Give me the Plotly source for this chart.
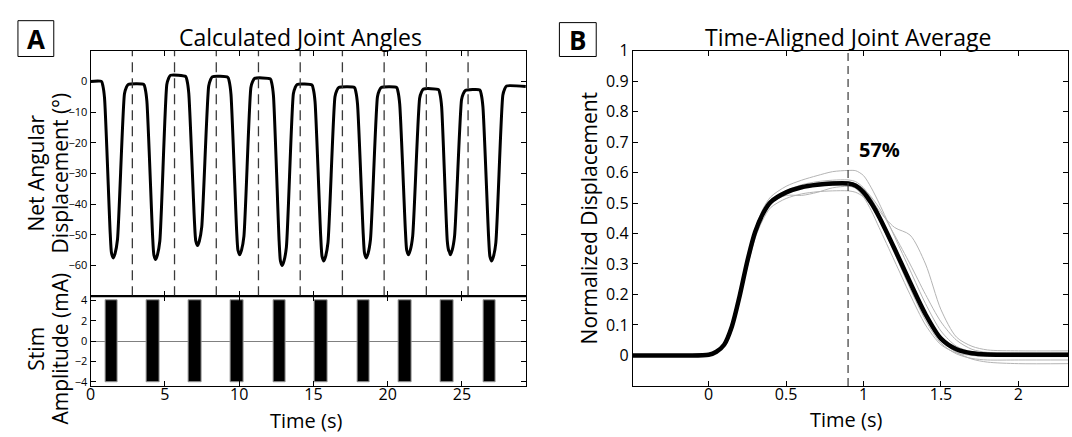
import plotly.graph_objects as go

# ---------------- Panel A data ----------------
angle_time = [0.00, 0.73, 0.83, 0.94, 1.32, 1.41, 1.53, 1.65, 1.81, 2.28, 2.40, 2.53,
              3.58, 3.68, 3.79, 4.17, 4.26, 4.38, 4.50, 4.66, 5.13, 5.25, 5.38,
              6.40, 6.50, 6.61, 6.99, 7.08, 7.20, 7.32, 7.48, 7.95, 8.07, 8.20,
              9.24, 9.34, 9.45, 9.83, 9.92, 10.04, 10.16, 10.32, 10.79, 10.91, 11.04,
              12.10, 12.20, 12.31, 12.69, 12.78, 12.90, 13.02, 13.18, 13.65, 13.77, 13.90,
              14.90, 15.00, 15.11, 15.49, 15.58, 15.70, 15.82, 15.98, 16.45, 16.57, 16.70,
              17.76, 17.86, 17.97, 18.35, 18.44, 18.56, 18.68, 18.84, 19.31, 19.43, 19.56,
              20.60, 20.70, 20.81, 21.19, 21.28, 21.40, 21.52, 21.68, 22.15, 22.27, 22.40,
              23.42, 23.52, 23.63, 24.01, 24.10, 24.15, 24.22, 24.34, 24.50, 24.97, 25.09, 25.22,
              26.20, 26.30, 26.41, 26.79, 26.88, 27.00, 27.12, 27.28, 27.75, 27.87, 28.00, 29.30]
angle_deg = [0.0, 0.0, -1.5, -5.5, -49.5, -56.0, -57.5, -56.0, -51.5, -4.0, -2.0, -1.0,
             -1.0, -2.5, -6.5, -50.0, -56.5, -58.0, -56.5, -52.0, -1.0, 1.0, 2.0,
             1.6, 0.1, -3.9, -45.5, -52.0, -53.5, -52.0, -47.5, -1.5, 0.5, 1.5,
             1.3, -0.2, -4.2, -48.5, -55.0, -56.5, -55.0, -50.5, -2.0, 0.0, 1.0,
             0.8, -0.7, -4.7, -52.0, -58.5, -60.0, -58.5, -54.0, -4.0, -2.0, -1.0,
             -1.2, -2.7, -6.7, -50.5, -57.0, -58.5, -57.0, -52.5, -5.0, -3.0, -2.0,
             -2.0, -3.5, -7.5, -49.5, -56.0, -57.5, -56.0, -51.5, -5.0, -3.0, -2.0,
             -2.0, -3.5, -7.5, -48.5, -55.0, -56.5, -55.0, -50.5, -5.5, -3.5, -2.5,
             -2.7, -4.2, -8.2, -52.0, -55.0, -55.5, -56.5, -55.0, -50.5, -6.0, -4.0, -3.0,
             -2.8, -4.3, -8.3, -50.5, -57.0, -58.5, -57.0, -52.5, -4.5, -2.5, -1.5, -1.7]

stim_off_markers = [2.81, 5.65, 8.46, 11.30, 14.11, 16.95, 19.76, 22.60, 25.41]
stim_start = [0.99, 3.80, 6.62, 9.45, 12.29, 15.10, 17.94, 20.75, 23.59, 26.43]
stim_end = [1.82, 4.65, 7.48, 10.30, 13.13, 15.96, 18.79, 21.62, 24.44, 27.28]
stim_amp = 4.0

angle_ticks = [0, -10, -20, -30, -40, -50, -60]
stim_ticks = [-4, -2, 0, 2, 4]
time_ticks_a = [0, 5, 10, 15, 20, 25]

# ---------------- Panel B data ----------------
t_b = [-0.49, -0.2, 0.0, 0.05, 0.1, 0.15, 0.2, 0.25, 0.3, 0.35, 0.4, 0.5, 0.6, 0.7, 0.8,
       0.9, 0.95, 1.0, 1.05, 1.1, 1.2, 1.3, 1.4, 1.5, 1.6, 1.7, 1.8, 2.0, 2.32]
mean_disp = [0, 0, 0.002, 0.012, 0.035, 0.095, 0.195, 0.31, 0.405, 0.465, 0.503, 0.535, 0.552,
             0.56, 0.564, 0.564, 0.557, 0.535, 0.5, 0.455, 0.35, 0.24, 0.135, 0.055, 0.02,
             0.007, 0.003, 0.002, 0.002]
trial_1 = [0, 0, 0.003, 0.013, 0.04, 0.1, 0.2, 0.315, 0.415, 0.48, 0.52, 0.555, 0.575, 0.59,
           0.603, 0.607, 0.606, 0.59, 0.55, 0.5, 0.39, 0.28, 0.17, 0.08, 0.03, 0.012, 0.008,
           0.006, 0.006]
trial_2 = [0, 0, 0.002, 0.01, 0.03, 0.085, 0.185, 0.3, 0.4, 0.465, 0.505, 0.54, 0.56, 0.57,
           0.575, 0.576, 0.57, 0.55, 0.515, 0.475, 0.42, 0.395, 0.3, 0.15, 0.06, 0.03, 0.018,
           0.015, 0.015]
trial_3 = [0, 0, 0.002, 0.012, 0.035, 0.09, 0.185, 0.29, 0.385, 0.445, 0.485, 0.515, 0.53,
           0.537, 0.54, 0.54, 0.535, 0.52, 0.49, 0.445, 0.335, 0.22, 0.115, 0.04, 0.005,
           -0.01, -0.015, -0.015, -0.015]
trial_4 = [0, 0, 0.002, 0.012, 0.036, 0.095, 0.2, 0.315, 0.41, 0.465, 0.5, 0.525, 0.525,
           0.535, 0.55, 0.555, 0.55, 0.53, 0.495, 0.45, 0.345, 0.235, 0.13, 0.05, 0.01,
           -0.012, -0.022, -0.027, -0.027]
trial_5 = [0, 0, 0.001, 0.01, 0.032, 0.09, 0.19, 0.305, 0.4, 0.46, 0.5, 0.535, 0.555, 0.565,
           0.57, 0.57, 0.562, 0.54, 0.505, 0.46, 0.355, 0.245, 0.14, 0.06, 0.022, 0.01,
           0.006, 0.005, 0.005]
trial_6 = [0, 0, 0.003, 0.014, 0.04, 0.1, 0.205, 0.32, 0.415, 0.47, 0.505, 0.535, 0.55,
           0.558, 0.56, 0.558, 0.548, 0.52, 0.475, 0.42, 0.31, 0.2, 0.1, 0.035, 0.008, 0.0,
           -0.003, -0.004, -0.004]
trial_7 = [0, 0, 0.001, 0.009, 0.03, 0.085, 0.18, 0.295, 0.395, 0.46, 0.5, 0.535, 0.553,
           0.563, 0.567, 0.568, 0.563, 0.547, 0.52, 0.485, 0.395, 0.3, 0.2, 0.11, 0.05, 0.02,
           0.01, 0.008, 0.008]
trial_8 = [0, 0, 0.002, 0.011, 0.034, 0.092, 0.195, 0.31, 0.405, 0.465, 0.502, 0.532, 0.548,
           0.556, 0.56, 0.56, 0.552, 0.532, 0.497, 0.452, 0.348, 0.24, 0.13, 0.05, 0.015,
           0.004, 0.001, 0.0, 0.0]
trials = [trial_1, trial_2, trial_3, trial_4, trial_5, trial_6, trial_7, trial_8]
peak_time = 0.9
peak_label = "57%"
disp_ticks = [0, 0.1, 0.2, 0.3, 0.4, 0.5, 0.6, 0.7, 0.8, 0.9, 1]
disp_tick_text = ["0", "0.1", "0.2", "0.3", "0.4", "0.5", "0.6", "0.7", "0.8", "0.9", "1"]
time_ticks_b = [0, 0.5, 1, 1.5, 2]
time_tick_text_b = ["0", "0.5", "1", "1.5", "2"]

# ---------------- figure ----------------
W, H = 1072, 437
FONT = "Open Sans"


def px(x):
    return x / W


def py(y):
    return 1 - y / H


fig = go.Figure()

fig.add_trace(go.Scatter(x=angle_time, y=angle_deg, mode="lines",
                         line=dict(color="black", width=3, shape="spline", smoothing=0.6),
                         xaxis="x", yaxis="y", showlegend=False))

fig.add_trace(go.Bar(x=[(s + e) / 2 for s, e in zip(stim_start, stim_end)],
                     y=[2 * stim_amp] * len(stim_start),
                     base=[-stim_amp] * len(stim_start),
                     width=[e - s for s, e in zip(stim_start, stim_end)],
                     marker=dict(color="black", line=dict(color="#9a9a9a", width=1)),
                     xaxis="x2", yaxis="y2", showlegend=False))

for tr in trials:
    fig.add_trace(go.Scatter(x=t_b, y=tr, mode="lines",
                             line=dict(color="#b4b4b4", width=1, shape="spline", smoothing=0.8),
                             xaxis="x3", yaxis="y3", showlegend=False))
fig.add_trace(go.Scatter(x=t_b, y=mean_disp, mode="lines",
                         line=dict(color="black", width=4.5, shape="spline", smoothing=0.8),
                         xaxis="x3", yaxis="y3", showlegend=False))

shapes = []
for xv in stim_off_markers:
    shapes.append(dict(type="line", xref="x", yref="y domain", x0=xv, x1=xv, y0=0, y1=1,
                       line=dict(color="#3a3a3a", width=1.3, dash="10px,6px")))
shapes.append(dict(type="line", xref="x3", yref="y3 domain", x0=peak_time, x1=peak_time,
                   y0=0, y1=1, line=dict(color="#3a3a3a", width=1.2, dash="8px,5px")))
shapes.append(dict(type="line", xref="paper", yref="paper", x0=px(86), x1=px(523.3),
                   y0=py(294.7), y1=py(294.7), line=dict(color="black", width=2)))
shapes.append(dict(type="rect", xref="paper", yref="paper", x0=px(13), x1=px(49),
                   y0=py(47), y1=py(10), line=dict(color="black", width=1)))
shapes.append(dict(type="rect", xref="paper", yref="paper", x0=px(557), x1=px(594),
                   y0=py(47), y1=py(12), line=dict(color="black", width=1)))

ax_common = dict(showline=True, linecolor="black", linewidth=1, mirror="ticks",
                 ticks="inside", ticklen=5, tickwidth=1, tickcolor="black",
                 showgrid=False, zeroline=False)

tick_small = dict(family=FONT, size=11, color="black")
tick_big = dict(family=FONT, size=16, color="black")

fig.update_layout(
    width=W, height=H,
    margin=dict(l=0, r=0, t=0, b=0),
    paper_bgcolor="white", plot_bgcolor="white",
    font=dict(family=FONT, color="black"),
    bargap=0,
    xaxis=dict(**ax_common, domain=[px(86), px(523.3)], anchor="y", range=[0, 29.3],
               tickvals=time_ticks_a, showticklabels=False),
    yaxis=dict(**ax_common, domain=[py(294.7), py(41)], anchor="x", range=[-70, 10],
               tickvals=angle_ticks, tickfont=tick_small),
    xaxis2=dict(**ax_common, domain=[px(86), px(523.3)], anchor="y2", range=[0, 29.3],
                tickvals=time_ticks_a, tickfont=tick_big, ticklabelstandoff=-6),
    yaxis2=dict(showline=True, linecolor="black", linewidth=1, mirror="ticks",
                ticks="inside", ticklen=5, tickwidth=1, tickcolor="black", showgrid=False,
                zeroline=True, zerolinecolor="#808080", zerolinewidth=1,
                domain=[py(387.3), py(294.7)], anchor="x2", range=[-4.4, 4.4],
                tickvals=stim_ticks, tickfont=tick_small),
    xaxis3=dict(**ax_common, domain=[px(630.7), px(1068)], anchor="y3", range=[-0.49, 2.32],
                tickvals=time_ticks_b, ticktext=time_tick_text_b, tickfont=tick_big,
                ticklabelstandoff=-6),
    yaxis3=dict(**ax_common, domain=[py(387.3), py(41)], anchor="x3", range=[-0.1, 1],
                tickvals=disp_ticks, ticktext=disp_tick_text, tickfont=tick_big),
    shapes=shapes,
)

title_font = dict(family=FONT, size=23, color="black")
label_font = dict(family=FONT, size=21, color="black")
time_font = dict(family=FONT, size=20, color="black")
ann = [
    dict(text="Calculated Joint Angles", x=px(297), y=py(27), font=title_font),
    dict(text="Time-Aligned Joint Average", x=px(847), y=py(27), font=title_font),
    dict(text="Time (s)", x=px(302), y=py(423), font=time_font),
    dict(text="Time (s)", x=px(845), y=py(422), font=time_font),
    dict(text="Net Angular", x=px(31), y=py(167), textangle=-90, font=label_font),
    dict(text="Displacement (°)", x=px(55), y=py(167), textangle=-90, font=label_font),
    dict(text="Stim", x=px(31), y=py(349), textangle=-90, font=label_font),
    dict(text="Amplitude (mA)", x=px(55), y=py(349), textangle=-90, font=label_font),
    dict(text="Normalized Displacement", x=px(587), y=py(214), textangle=-90, font=label_font),
    dict(text="<b>A</b>", x=px(31), y=py(28.5), font=dict(family=FONT, size=26, color="black")),
    dict(text="<b>B</b>", x=px(575.5), y=py(29.5), font=dict(family=FONT, size=26, color="black")),
]
for a in ann:
    fig.add_annotation(xref="paper", yref="paper", showarrow=False, xanchor="center",
                       yanchor="middle", **a)
fig.add_annotation(xref="x3", yref="y3", x=0.955, y=0.675, text="<b>" + peak_label + "</b>",
                   showarrow=False, xanchor="left", yanchor="middle",
                   font=dict(family=FONT, size=20, color="black"))

fig.write_html("out.html", post_script="document.body.style.margin='0px';")
